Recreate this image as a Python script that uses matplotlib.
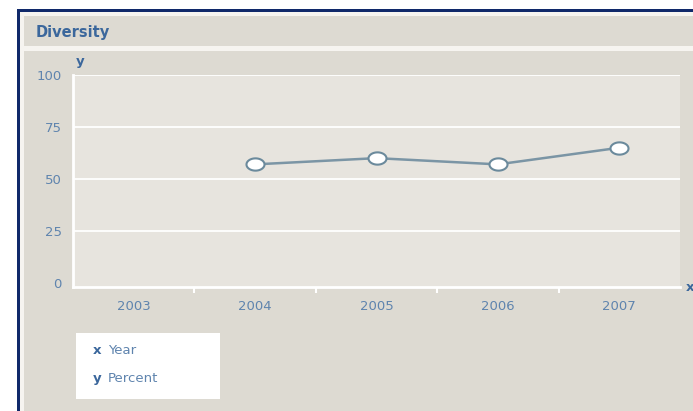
import numpy as np
import matplotlib
matplotlib.use("Agg")
import matplotlib.pyplot as plt
from matplotlib.patches import Rectangle
from matplotlib.path import Path

# ==========================
# DATA
# ==========================

years = ["2003", "2004", "2005", "2006", "2007"]
percent = [np.nan, 57, 60, 57, 65]
y_ticks = [0, 25, 50, 75, 100]

title = "Diversity"
x_name = "Year"
y_name = "Percent"

# ==========================
# STYLE
# ==========================

W, H = 693, 411
PANEL = "#dddad2"
PLOT_BG = "#e7e4de"
NAVY = "#10296a"
TEXT = "#5f84ae"
TITLE = "#3b679c"
LINE = "#7b95a5"
EDGE = "#6b8a9c"

plt.rcParams["font.family"] = ["DejaVu Sans"]

fig = plt.figure(figsize=(W / 100, H / 100), dpi=100)
fig.patch.set_facecolor("white")


def box(x0, y0, x1, y1, color, z=0):
    # pixel coords, origin top-left
    r = Rectangle((x0 / W, 1 - y1 / H), (x1 - x0) / W, (y1 - y0) / H,
                  transform=fig.transFigure, facecolor=color,
                  edgecolor="none", zorder=z)
    fig.add_artist(r)


def label(x, y, s, **kw):
    fig.text(x / W, 1 - y / H, s, **kw)


# frame
box(17, 9, W + 5, H + 5, NAVY)
box(20, 12, W + 5, H + 5, "#f6f4f0")
box(24, 16, W + 5, 46, PANEL)
box(24, 51, W + 5, H + 5, PANEL)
label(36, 32, title, color=TITLE, fontsize=10.5, fontweight="bold",
      va="center", ha="left")

# legend box
box(76, 333, 220, 399, "white", z=1)
label(93, 350, "x", color=TITLE, fontsize=9.5, fontweight="bold", va="center", zorder=2)
label(108, 350, x_name, color=TEXT, fontsize=9.5, va="center", zorder=2)
label(93, 378, "y", color=TITLE, fontsize=9.5, fontweight="bold", va="center", zorder=2)
label(108, 378, y_name, color=TEXT, fontsize=9.5, va="center", zorder=2)

# axis names
label(76, 62, "y", color=TITLE, fontsize=9.5, fontweight="bold", va="center")
label(686, 287, "x", color=TITLE, fontsize=9.5, fontweight="bold", va="center")

# ==========================
# PLOT
# ==========================

ax = fig.add_axes([73 / W, 1 - 287 / H, (680 - 73) / W, (287 - 75) / H])
ax.set_facecolor(PLOT_BG)

x = np.arange(len(years))

theta = np.linspace(0, 2 * np.pi, 40)
ellipse = Path(np.column_stack([np.cos(theta), 0.68 * np.sin(theta)]), closed=True)

ax.plot(x, percent, color=LINE, linewidth=1.8, zorder=3)
ax.plot(x, percent, linestyle="none", marker=ellipse, markersize=13,
        markerfacecolor="white", markeredgecolor=EDGE, markeredgewidth=1.5, zorder=4)

ax.set_xlim(-0.5, len(years) - 0.5)
ax.set_ylim(-2, 100)

ax.set_yticks(y_ticks)
ax.set_xticks(x)
ax.set_xticklabels(years)
ax.set_xticks(x[:-1] + 0.5, minor=True)

ax.grid(axis="y", color="white", linewidth=1.3)
ax.yaxis.get_gridlines()[0].set_visible(False)

ax.tick_params(axis="y", length=0, pad=8, labelsize=9.5, labelcolor=TEXT)
ax.tick_params(axis="x", which="major", length=0, pad=9, labelsize=9.5, labelcolor=TEXT)
ax.tick_params(axis="x", which="minor", length=4, width=1.5, color="white", direction="out")

for s in ["top", "right"]:
    ax.spines[s].set_visible(False)
ax.spines["left"].set_color("white")
ax.spines["left"].set_linewidth(2)
ax.spines["bottom"].set_color("white")
ax.spines["bottom"].set_linewidth(2)

fig.savefig("out.png", dpi=100, facecolor=fig.get_facecolor())
